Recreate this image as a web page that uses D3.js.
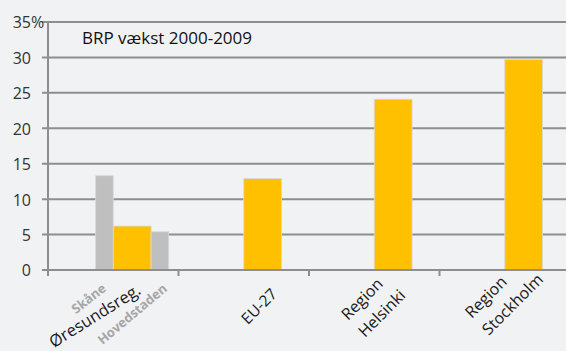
<!DOCTYPE html>
<html>
<head>
<meta charset="utf-8">
<script src="https://cdn.jsdelivr.net/npm/d3@7"></script>
<style>
  html, body { margin: 0; padding: 0; background: #f1f2f4; }
  svg { display: block; font-family: "Open Sans", "Noto Sans", sans-serif; }
</style>
</head>
<body>
<svg id="chart" width="566" height="351"></svg>
<script>
// BRP growth 2000-2009, percent
const categories = ["Øresundsreg.", "EU-27", "Region Helsinki", "Region Stockholm"];
const categoryLines = [["Øresundsreg."], ["EU-27"], ["Region", "Helsinki"], ["Region", "Stockholm"]];
const mainValues = [6.2, 12.9, 24.1, 29.7];
// Sub-regions of the Øresund region, shown as grey side bars
const subRegions = ["Skåne", "Hovedstaden"];
const subValues = [13.3, 5.4];
const yTicks = [0, 5, 10, 15, 20, 25, 30, 35];
const title = "BRP vækst 2000-2009";

const svg = d3.select("#chart");
const axisX = 48, baseY = 270, topY = 22;

const x = d3.scaleBand().domain(categories).range([axisX, 570]).paddingInner(0).paddingOuter(0);
const y = d3.scaleLinear().domain([0, 35]).range([baseY, topY]);
const bw = x.bandwidth();
const mainW = bw * 0.29;
const subW = bw * 0.135;

const gridColor = "#8e8e8e";

// horizontal gridlines
svg.append("g").selectAll("line").data(yTicks.filter(d => d > 0)).join("line")
  .attr("x1", axisX - 6).attr("x2", 566)
  .attr("y1", d => y(d)).attr("y2", d => y(d))
  .attr("stroke", gridColor).attr("stroke-width", 2);

// y tick labels
const yLab = svg.append("g").attr("fill", "#333").attr("font-size", 16);
yLab.selectAll("text").data(yTicks).join("text")
  .attr("x", 31).attr("y", d => y(d)).attr("dy", "0.4em")
  .attr("text-anchor", "end").text(d => d);
yLab.append("text").attr("x", 31).attr("y", y(35)).attr("dy", "0.4em").text("%");

// main (yellow) bars start at the category centre
const centre = c => x(c) + bw / 2;
svg.append("g").selectAll("rect").data(categories).join("rect")
  .attr("x", c => centre(c))
  .attr("width", mainW)
  .attr("y", (c, i) => y(mainValues[i]))
  .attr("height", (c, i) => baseY - y(mainValues[i]))
  .attr("fill", "#ffc000").attr("stroke", "#d9d9d9").attr("stroke-width", 0.8);

// grey sub-region bars flank the Øresund bar
const c0 = centre(categories[0]);
const subX = [c0 - subW, c0 + mainW];
svg.append("g").selectAll("rect").data(subRegions).join("rect")
  .attr("x", (d, i) => subX[i])
  .attr("width", subW)
  .attr("y", (d, i) => y(subValues[i]))
  .attr("height", (d, i) => baseY - y(subValues[i]))
  .attr("fill", "#bfbfbf").attr("stroke", "#d9d9d9").attr("stroke-width", 0.8);

// axes lines
svg.append("line").attr("x1", axisX).attr("x2", axisX).attr("y1", topY).attr("y2", baseY + 6)
  .attr("stroke", gridColor).attr("stroke-width", 2);
svg.append("line").attr("x1", axisX - 6).attr("x2", 566).attr("y1", baseY).attr("y2", baseY)
  .attr("stroke", gridColor).attr("stroke-width", 2);
svg.append("g").selectAll("line").data(categories.slice(1)).join("line")
  .attr("x1", c => x(c)).attr("x2", c => x(c))
  .attr("y1", baseY).attr("y2", baseY + 6)
  .attr("stroke", gridColor).attr("stroke-width", 2);

// title
svg.append("text").attr("x", 82).attr("y", 44).attr("font-size", 17).attr("fill", "#111")
  .text(title);

// rotated category labels. Single lines hang from their end point,
// two-line labels are left-aligned from the start of the first line.
const labelAnchor = [
  { dx: 28.8, dy: 23, anchor: "end", angle: -32, size: 16.5 },
  { dx: 34.2, dy: 25, anchor: "end", angle: -45, size: 15.5 },
  { dx: -26.3, dy: 51, anchor: "start", angle: -45, size: 16 },
  { dx: -33, dy: 49, anchor: "start", angle: -45, size: 16 }
];
const lineH = 24;
categoryLines.forEach((lines, i) => {
  const a = labelAnchor[i];
  const g = svg.append("g")
    .attr("transform", `translate(${centre(categories[i]) + a.dx},${baseY + a.dy}) rotate(${a.angle})`)
    .attr("font-size", a.size).attr("fill", "#1a1a1a");
  lines.forEach((t, k) => g.append("text").attr("y", k * lineH).attr("text-anchor", a.anchor).text(t));
});

// small grey labels for the sub-regions, anchored at their end point
const subAnchor = [{ dx: -6.2, dy: 20, angle: -38 }, { dx: 54.8, dy: 20, angle: -40 }];
subRegions.forEach((s, i) => {
  const a = subAnchor[i];
  svg.append("text")
    .attr("transform", `translate(${c0 + a.dx},${baseY + a.dy}) rotate(${a.angle})`)
    .attr("font-size", 13).attr("font-weight", "bold").attr("fill", "#a6a6a6")
    .attr("text-anchor", "end").text(s);
});
</script>
</body>
</html>
